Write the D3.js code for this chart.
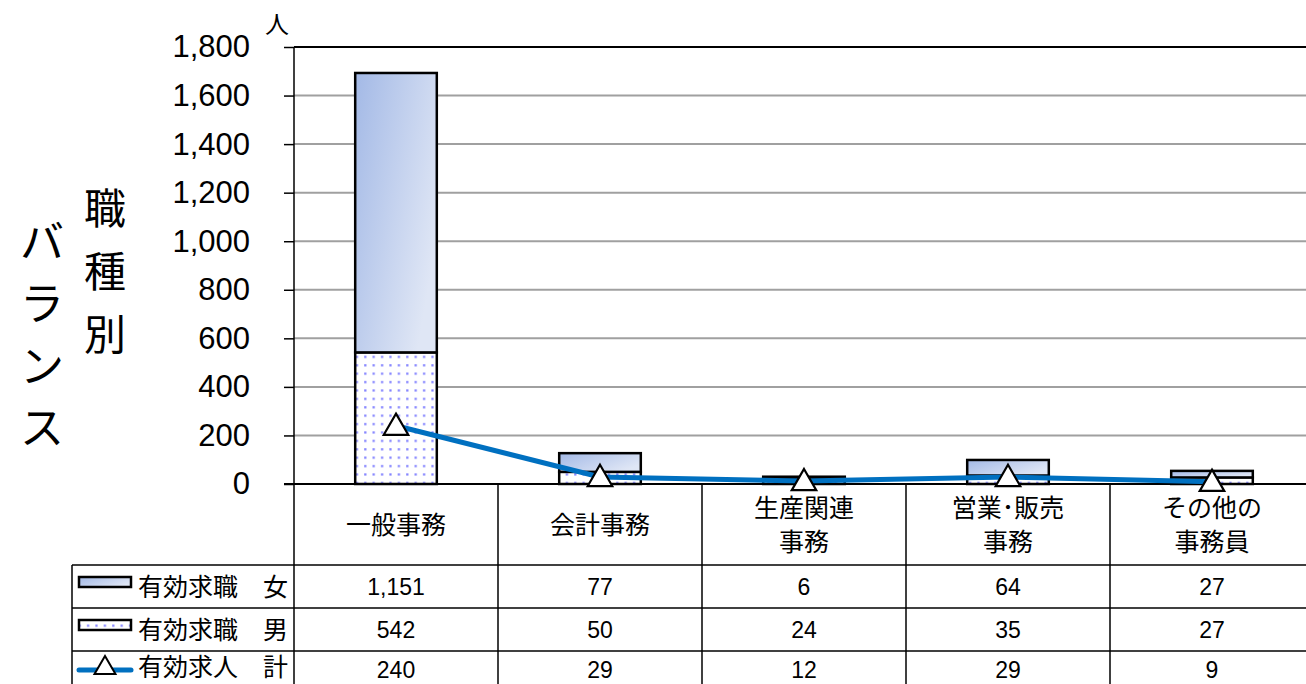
<!DOCTYPE html>
<html>
<head>
<meta charset="utf-8">
<script src="https://cdn.jsdelivr.net/npm/d3@7"></script>
<style>
  html, body { margin: 0; padding: 0; background: #fff; }
  svg { display: block; }
</style>
</head>
<body>
<svg id="chart" width="1306" height="684"></svg>
<script>
// 職種別バランス: job seekers (female / male, stacked) and job openings (line)
const categories = [
  ["一般事務"],
  ["会計事務"],
  ["生産関連", "事務"],
  ["営業･販売", "事務"],
  ["その他の", "事務員"]
];
const seekersFemale = [1151, 77, 6, 64, 27];
const seekersMale = [542, 50, 24, 35, 27];
const openingsTotal = [240, 29, 12, 29, 9];
const yTicks = [0, 200, 400, 600, 800, 1000, 1200, 1400, 1600, 1800];
const seriesNames = ["有効求職　女", "有効求職　男", "有効求人　計"];
const titleChars = ["職", "種", "別"];
const subtitleChars = ["バ", "ラ", "ン", "ス"];
const unitLabel = "人";

const JP = "'Noto Sans CJK JP', 'Noto Sans', sans-serif";
const NUM = "'Liberation Sans', Arial, sans-serif";

const svg = d3.select("#chart");
const left = 294, zeroY = 484, topY = 47, band = 204;
const idx = categories.map((_, i) => i);

const x = d3.scaleBand().domain(idx).range([left, left + band * categories.length]);
const y = d3.scaleLinear().domain([0, 1800]).range([zeroY, topY]);
const plotRight = 1306;

// defs: gradient for female bars, dotted pattern for male bars
const defs = svg.append("defs");
const grad = defs.append("linearGradient").attr("id", "femaleFill")
  .attr("x1", "0").attr("y1", "0").attr("x2", "1").attr("y2", "0.6");
grad.append("stop").attr("offset", "0").attr("stop-color", "#a3b9e6");
grad.append("stop").attr("offset", "1").attr("stop-color", "#dfe6f5");

const pat = defs.append("pattern").attr("id", "maleFill")
  .attr("patternUnits", "userSpaceOnUse").attr("width", 8.4).attr("height", 8.4);
pat.append("rect").attr("width", 8.4).attr("height", 8.4).attr("fill", "#fff");
pat.append("rect").attr("x", 3).attr("y", 3).attr("width", 2.2).attr("height", 2.2).attr("fill", "#7f7fff");

// gridlines
svg.append("g").selectAll("line").data(yTicks.filter(d => d > 0 && d < 1800)).join("line")
  .attr("x1", left).attr("x2", plotRight)
  .attr("y1", d => y(d)).attr("y2", d => y(d))
  .attr("stroke", "#a0a0a0").attr("stroke-width", 2);
// top border of plot area
svg.append("line").attr("x1", left).attr("x2", plotRight)
  .attr("y1", y(1800)).attr("y2", y(1800))
  .attr("stroke", "#000").attr("stroke-width", 2);

// y axis
const yAxis = d3.axisLeft(y).tickValues(yTicks).tickSizeInner(10).tickSizeOuter(0)
  .tickPadding(34).tickFormat(d3.format(","));
const gy = svg.append("g").attr("transform", `translate(${left},0)`).call(yAxis);
gy.select(".domain").remove();
gy.selectAll(".tick line").attr("stroke", "#000").attr("stroke-width", 1.5);
gy.selectAll(".tick text").attr("font-family", NUM).attr("font-size", 31).attr("fill", "#000");

// unit label
svg.append("text").attr("x", 277).attr("y", 33).attr("text-anchor", "middle")
  .attr("font-family", JP).attr("font-size", 24).text(unitLabel);

// vertical titles
svg.append("g").selectAll("text").data(titleChars).join("text")
  .attr("x", 105).attr("y", (d, i) => 224 + i * 63)
  .attr("text-anchor", "middle").attr("font-family", JP).attr("font-size", 42).text(d => d);
svg.append("g").selectAll("text").data(subtitleChars).join("text")
  .attr("x", 42).attr("y", (d, i) => 258 + i * 62)
  .attr("text-anchor", "middle").attr("font-family", JP).attr("font-size", 44).text(d => d);

// stacked bars: male at bottom, female on top
const barW = x.bandwidth() * 0.4;
const bx = i => x(i) + (x.bandwidth() - barW) / 2;
const bars = svg.append("g");
bars.selectAll("rect.male").data(idx).join("rect").attr("class", "male")
  .attr("x", bx).attr("width", barW)
  .attr("y", i => y(seekersMale[i])).attr("height", i => y(0) - y(seekersMale[i]))
  .attr("fill", "url(#maleFill)").attr("stroke", "#000").attr("stroke-width", 2.5);
bars.selectAll("rect.female").data(idx).join("rect").attr("class", "female")
  .attr("x", bx).attr("width", barW)
  .attr("y", i => y(seekersMale[i] + seekersFemale[i]))
  .attr("height", i => y(seekersMale[i]) - y(seekersMale[i] + seekersFemale[i]))
  .attr("fill", "url(#femaleFill)").attr("stroke", "#000").attr("stroke-width", 2.5);

// table grid
const tbl = svg.append("g").attr("stroke", "#000").attr("stroke-width", 1.5);
const rowLines = [565, 608, 651];
const tableLeft = 72;
// baseline (zero line) across plot
svg.append("line").attr("x1", 284).attr("x2", plotRight).attr("y1", zeroY).attr("y2", zeroY)
  .attr("stroke", "#000").attr("stroke-width", 2);
// axis / column lines
tbl.append("line").attr("x1", left).attr("x2", left).attr("y1", topY).attr("y2", 684);
tbl.selectAll("line.col").data(idx.slice(1)).join("line").attr("class", "col")
  .attr("x1", i => x(i)).attr("x2", i => x(i)).attr("y1", zeroY).attr("y2", 684);
tbl.selectAll("line.row").data(rowLines).join("line").attr("class", "row")
  .attr("x1", tableLeft).attr("x2", plotRight).attr("y1", d => d).attr("y2", d => d);
tbl.append("line").attr("x1", tableLeft).attr("x2", tableLeft).attr("y1", rowLines[0]).attr("y2", 684);

// category header labels
const hdr = svg.append("g").attr("font-family", JP).attr("font-size", 25).attr("text-anchor", "middle");
idx.forEach(i => {
  const lines = categories[i];
  const cx = x(i) + x.bandwidth() / 2;
  const start = 525 - (lines.length - 1) * 17;
  lines.forEach((s, k) => {
    hdr.append("text").attr("x", cx).attr("y", start + k * 34 + 9).text(s);
  });
});

// table values
const rows = [seekersFemale, seekersMale, openingsTotal];
const fmt = d3.format(",");
rows.forEach((arr, r) => {
  const cy = rowLines[r] + 22;
  svg.append("g").selectAll("text").data(idx).join("text")
    .attr("x", i => x(i) + x.bandwidth() / 2).attr("y", Math.min(cy + 8, 678))
    .attr("text-anchor", "middle").attr("font-family", NUM).attr("font-size", 23)
    .text(i => fmt(arr[i]));
});

// legend in table rows
const leg = svg.append("g");
seriesNames.forEach((name, r) => {
  const cy = rowLines[r] + 22;
  leg.append("text").attr("x", 138).attr("y", Math.min(cy + 9, 676)).attr("font-family", JP)
    .attr("font-size", 25).text(name);
});
leg.append("rect").attr("x", 79).attr("y", rowLines[0] + 12).attr("width", 52).attr("height", 10)
  .attr("fill", "url(#femaleFill)").attr("stroke", "#000").attr("stroke-width", 2.5);
leg.append("rect").attr("x", 79).attr("y", rowLines[1] + 12).attr("width", 52).attr("height", 10)
  .attr("fill", "url(#maleFill)").attr("stroke", "#000").attr("stroke-width", 2.5);
leg.append("line").attr("x1", 79).attr("x2", 131).attr("y1", rowLines[2] + 19).attr("y2", rowLines[2] + 19)
  .attr("stroke", "#0070c0").attr("stroke-width", 5).attr("stroke-linecap", "round");
const tri = d3.symbol().type(d3.symbolTriangle).size(190);
leg.append("path").attr("d", tri).attr("transform", `translate(105,${rowLines[2] + 17})`)
  .attr("fill", "#fff").attr("stroke", "#000").attr("stroke-width", 2);

// openings line with triangle markers
const cx = i => x(i) + x.bandwidth() / 2;
const line = d3.line().x(i => cx(i)).y(i => y(openingsTotal[i]));
svg.append("path").datum(idx).attr("d", line).attr("fill", "none")
  .attr("stroke", "#0070c0").attr("stroke-width", 5).attr("stroke-linejoin", "round");
svg.append("g").selectAll("path").data(idx).join("path")
  .attr("d", d3.symbol().type(d3.symbolTriangle).size(260))
  .attr("transform", i => `translate(${cx(i)},${y(openingsTotal[i]) + 2})`)
  .attr("fill", "#fff").attr("stroke", "#000").attr("stroke-width", 2.2);
</script>
</body>
</html>
